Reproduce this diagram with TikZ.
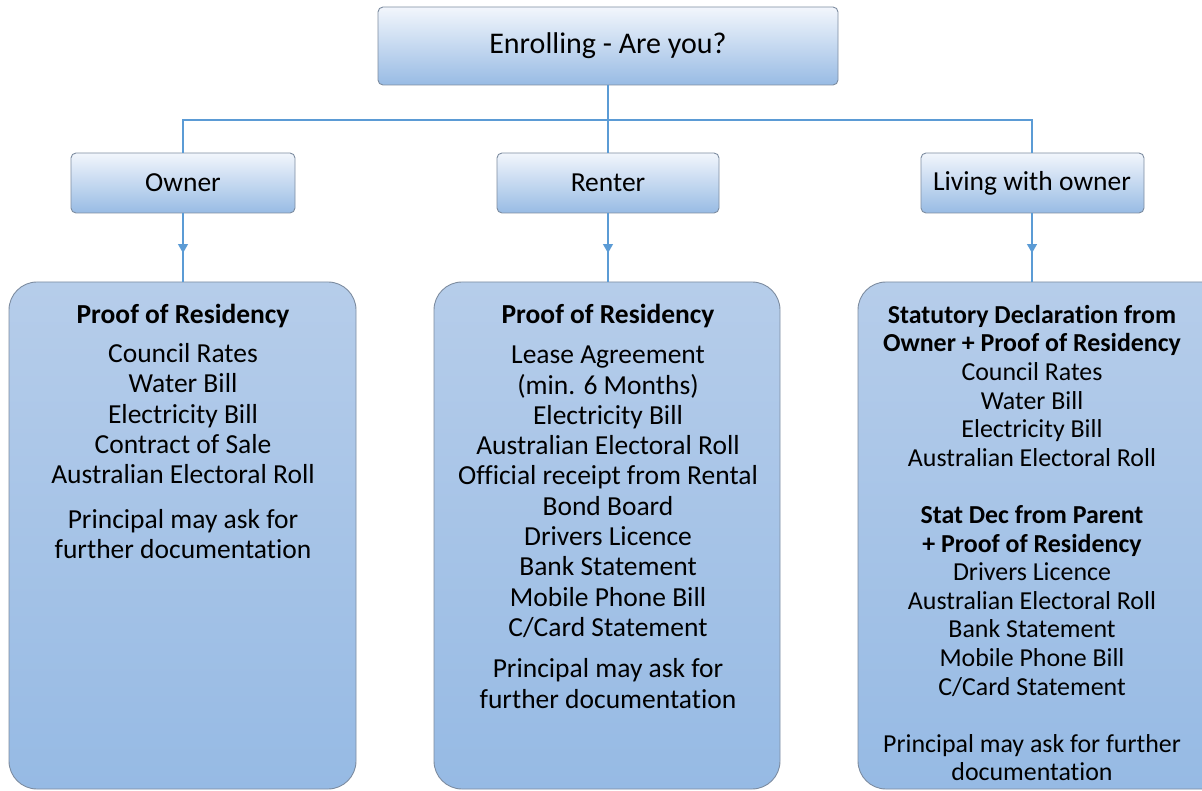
\documentclass[tikz,border=0pt]{standalone}
\usepackage{fontspec}
\setmainfont[Ligatures=NoCommon]{Carlito}
\usetikzlibrary{arrows.meta,decorations.markings}
\definecolor{linkc}{RGB}{91,155,213}
\definecolor{bordc}{RGB}{125,140,160}
\definecolor{bigtop}{RGB}{182,205,234}
\definecolor{bigbot}{RGB}{150,186,228}
\definecolor{smtop}{RGB}{242,246,252}
\definecolor{smbot}{RGB}{152,187,228}
\tikzset{
  bigbox/.style={draw=bordc,line width=0.9pt,rounded corners=28pt,top color=bigtop,bottom color=bigbot},
  smallbox/.style={draw=bordc,line width=0.9pt,rounded corners=5pt,top color=smtop,bottom color=smbot},
  link/.style={draw=linkc,line width=1.2pt},
  arrlink/.style={link,postaction={decorate},decoration={markings,mark=at position 0.58 with {\arrow[linkc]{Triangle[length=9pt,width=10pt]}}}},
  txt/.style={inner sep=0pt,align=center,anchor=north,text=black},
}
\begin{document}
\begin{tikzpicture}[x=1pt,y=-1pt]
\useasboundingbox (0,0) rectangle (1202,791);
% boxes
\path[smallbox] (378,7) rectangle (838,85);
\node[inner sep=0pt,font=\fontsize{30}{33}\selectfont] (top) at (608,46) {Enrolling - Are you?};
\coordinate (topb) at (608,85);
\path[smallbox] (71,153) rectangle (295,213);
\path[smallbox] (497,153) rectangle (719,213);
\path[smallbox] (921,153) rectangle (1144,213);
\node[inner sep=0pt,font=\fontsize{27.5}{30}\selectfont] (own) at (183,183) {Owner};
\node[inner sep=0pt,font=\fontsize{27.5}{30}\selectfont] (ren) at (608,183) {Renter};
\node[inner sep=0pt,font=\fontsize{27.5}{30}\selectfont] (liv) at (1032,183) {Living with owner};
\coordinate (ownt) at (183,153); \coordinate (ownb) at (183,213);
\coordinate (rent) at (608,153); \coordinate (renb) at (608,213);
\coordinate (livt) at (1032,153); \coordinate (livb) at (1032,213);
\path[bigbox] (9,282) rectangle (356,789);
\path[bigbox] (434,282) rectangle (780,789);
\path[bigbox] (858,282) rectangle (1230,789);
\coordinate (b1) at (183,282);
\coordinate (b2) at (608,282);
\coordinate (b3) at (1032,282);
% connectors
\coordinate (jn) at (608,120);
\draw[link] (topb) -- (jn);
\draw[link] (ownt) -- ++(0,-33) -| (livt);
\draw[link] (jn) -- (rent);
\draw[arrlink] (ownb) -- (b1);
\draw[arrlink] (renb) -- (b2);
\draw[arrlink] (livb) -- (b3);
% texts
\node[txt,font=\fontsize{27.5}{30.2}\selectfont] (t1) at (183,304)
{\textbf{Proof of Residency}\\[9pt]
Council Rates\\Water Bill\\Electricity Bill\\Contract of Sale\\Australian Electoral Roll\\[15pt]
Principal may ask for\\further documentation};
\node[txt,font=\fontsize{27.5}{30.3}\selectfont] (t2) at (608,304)
{\textbf{Proof of Residency}\\[10pt]
Lease Agreement\\(min. 6 Months)\\Electricity Bill\\Australian Electoral Roll\\Official receipt from Rental\\Bond Board\\Drivers Licence\\Bank Statement\\Mobile Phone Bill\\C/Card Statement\\[11pt]
Principal may ask for\\further documentation};
\node[txt,font=\fontsize{25.9}{28.6}\selectfont] (t3) at (1032,305)
{\textbf{Statutory Declaration from}\\\textbf{Owner + Proof of Residency}\\
Council Rates\\Water Bill\\Electricity Bill\\Australian Electoral Roll\\[28.6pt]
\textbf{Stat Dec from Parent}\\\textbf{+ Proof of Residency}\\
Drivers Licence\\Australian Electoral Roll\\Bank Statement\\Mobile Phone Bill\\C/Card Statement\\[28.6pt]
Principal may ask for further\\documentation};
\end{tikzpicture}
\end{document}
